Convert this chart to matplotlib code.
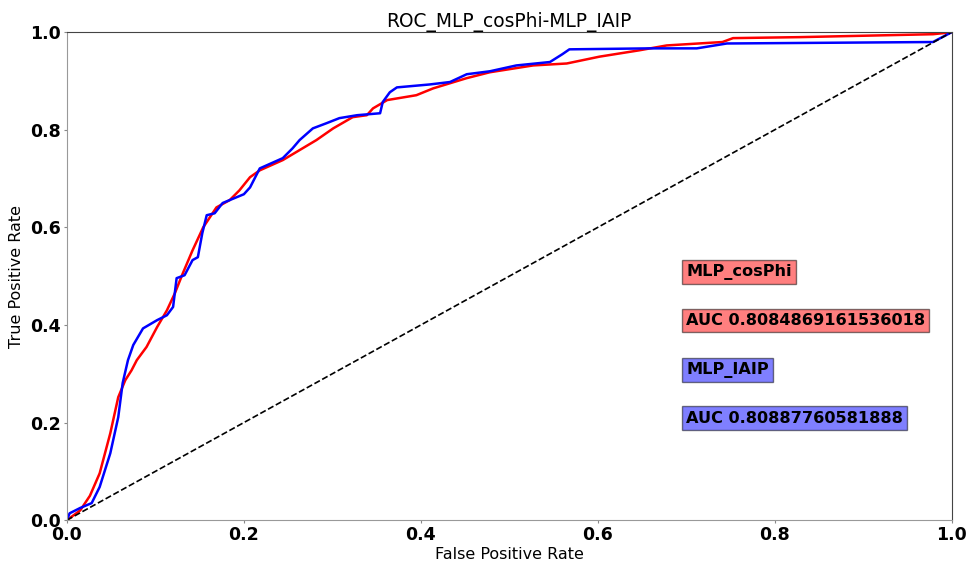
import matplotlib
matplotlib.use("Agg")
import matplotlib.pyplot as plt

# ROC points
fpr_cos = [0.0, 0.015, 0.026, 0.037, 0.049, 0.058, 0.066, 0.073, 0.079, 0.090, 0.102,
           0.113, 0.122, 0.131, 0.142, 0.154, 0.169, 0.184, 0.195, 0.207, 0.218, 0.244,
           0.282, 0.301, 0.323, 0.339, 0.346, 0.362, 0.395, 0.414, 0.452, 0.478, 0.527,
           0.565, 0.602, 0.647, 0.678, 0.741, 0.753, 0.828, 0.979, 1.0]
tpr_cos = [0.0, 0.02, 0.05, 0.096, 0.178, 0.252, 0.287, 0.307, 0.328, 0.355, 0.396,
           0.430, 0.465, 0.506, 0.553, 0.600, 0.641, 0.656, 0.676, 0.703, 0.717, 0.738,
           0.779, 0.803, 0.826, 0.830, 0.844, 0.861, 0.871, 0.885, 0.906, 0.918, 0.932,
           0.936, 0.950, 0.963, 0.973, 0.980, 0.988, 0.990, 0.996, 1.0]

fpr_iaip = [0.0, 0.003, 0.015, 0.028, 0.037, 0.049, 0.058, 0.063, 0.069, 0.075, 0.086,
            0.102, 0.113, 0.120, 0.124, 0.133, 0.142, 0.148, 0.153, 0.158, 0.167, 0.176,
            0.200, 0.207, 0.218, 0.244, 0.255, 0.263, 0.278, 0.294, 0.308, 0.328, 0.354,
            0.357, 0.365, 0.373, 0.410, 0.433, 0.452, 0.478, 0.508, 0.546, 0.560, 0.568,
            0.659, 0.712, 0.746, 0.979, 1.0]
tpr_iaip = [0.0, 0.014, 0.025, 0.035, 0.068, 0.137, 0.211, 0.281, 0.328, 0.359, 0.393,
            0.410, 0.420, 0.437, 0.496, 0.502, 0.533, 0.539, 0.588, 0.625, 0.629, 0.650,
            0.668, 0.682, 0.721, 0.742, 0.762, 0.779, 0.803, 0.814, 0.824, 0.830, 0.834,
            0.857, 0.877, 0.887, 0.893, 0.898, 0.914, 0.920, 0.932, 0.939, 0.955, 0.965,
            0.967, 0.967, 0.977, 0.980, 1.0]

labels = ["MLP_cosPhi", "AUC 0.8084869161536018", "MLP_IAIP", "AUC 0.80887760581888"]
label_y = [0.5, 0.4, 0.3, 0.2]
label_colors = ["red", "red", "blue", "blue"]

fig = plt.figure(figsize=(9.7, 5.66), dpi=100)
ax = fig.add_axes([0.069, 0.081, 0.912, 0.862])

ax.plot(fpr_cos, tpr_cos, c="r", lw=1.8)
ax.plot(fpr_iaip, tpr_iaip, c="b", lw=1.8)
ax.plot([0, 1], [0, 1], "k--", lw=1.2)

for t, yy, col in zip(labels, label_y, label_colors):
    ax.text(0.7, yy, t, fontsize=11.6, fontweight="bold",
            bbox=dict(facecolor=col, alpha=0.5, pad=3))

ax.set_xlim(0, 1)
ax.set_ylim(0, 1)
ax.set_xlabel("False Positive Rate", fontsize=11.5, labelpad=2)
ax.set_ylabel("True Positive Rate", fontsize=11.5)
ax.set_title("ROC_MLP_cosPhi-MLP_IAIP", fontsize=13.4, pad=4)
ax.tick_params(length=2.5, color="#888888", pad=2)
for lab in ax.get_xticklabels() + ax.get_yticklabels():
    lab.set_fontweight("bold")
    lab.set_fontsize(12.5)
ax.spines["left"].set_color("#999999")
ax.spines["bottom"].set_color("#999999")
ax.spines["top"].set_color("#444444")
ax.spines["right"].set_color("#444444")

fig.savefig("out.png", dpi=100)
